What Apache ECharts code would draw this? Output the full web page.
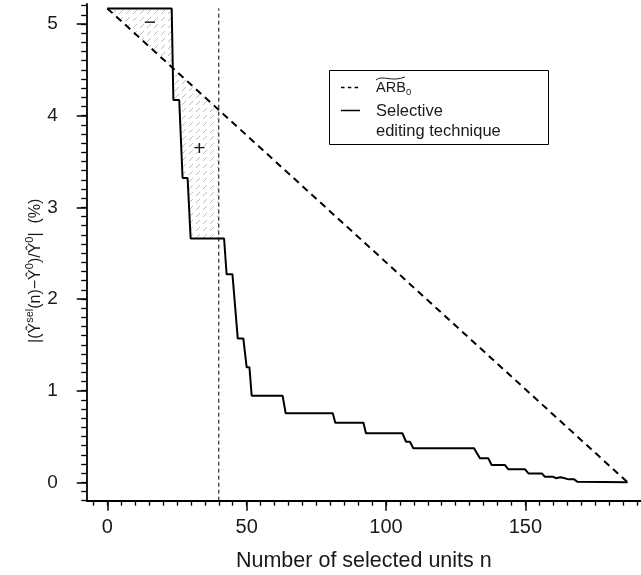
<!DOCTYPE html>
<html>
<head>
<meta charset="utf-8">
<script src="https://cdn.jsdelivr.net/npm/echarts@6/dist/echarts.min.js"></script>
<style>
html, body { margin: 0; padding: 0; background: #fff; }
#chart { width: 641px; height: 575px; }
</style>
</head>
<body>
<div id="chart"></div>
<script>
// selective editing technique: corners of the step curve (n, relative bias %)
const curveN = [0, 23.1, 23.7, 25.8, 27.0, 28.8, 29.9, 41.9, 42.8, 44.9, 46.8, 48.8, 50.0, 51.0, 51.8,
  62.9, 64.0, 80.9, 81.8, 91.9, 92.8, 105.9, 107.2, 108.6, 109.8, 131.6, 133.7, 136.7, 137.9,
  142.7, 143.9, 149.9, 151.1, 155.9, 157.0, 160.0, 161.0, 162.5, 163.5, 165.5, 167.5, 168.6, 186.7]
const curveV = [5.17, 5.17, 4.17, 4.17, 3.32, 3.32, 2.66, 2.66, 2.27, 2.27, 1.57, 1.57, 1.255, 1.255, 0.945,
  0.945, 0.753, 0.753, 0.65, 0.65, 0.535, 0.535, 0.443, 0.443, 0.371, 0.371, 0.262, 0.262, 0.189,
  0.189, 0.142, 0.142, 0.098, 0.098, 0.061, 0.061, 0.045, 0.055, 0.05, 0.033, 0.033, 0.008, 0]

// ARB_0 straight line
const arbN = [0, 186.7]
const arbV = [5.17, 0]

// chosen cut-off n
const cutN = 40
const cutV = [-0.2, 5.17]

// hatched areas between the two curves
const minusArea = [[0, 5.17], [23.1, 5.17], [23.48, 4.52]]
const plusArea = [[23.48, 4.52], [40, 4.06], [40, 2.66], [29.9, 2.66], [28.8, 3.32], [27, 3.32], [25.8, 4.17], [23.7, 4.17]]
const areaSigns = ['\u2212', '+']
const signPos = [[15.3, 5.01], [33, 3.63]]

// ticks
const xMajor = [0, 50, 100, 150]
const yMajor = [0, 1, 2, 3, 4, 5]
const xMinor = []
for (let v = -5; v <= 190; v += 5) xMinor.push(v)
const yMinor = []
for (let k = -2; k <= 52; k++) yMinor.push(+(k / 10).toFixed(1))

const FONT = '"Liberation Sans", Arial, Helvetica, sans-serif'
const INK = '#1a1a1a'

// hatch pattern, light grey dashed "/"
const hatch = document.createElement('canvas')
hatch.width = 7
hatch.height = 7
const hc = hatch.getContext('2d')
hc.strokeStyle = '#bdbdbd'
hc.lineWidth = 1
hc.beginPath()
hc.moveTo(0, 7)
hc.lineTo(4, 3)
hc.stroke()

// y axis title built from pieces (main text + superscripts)
const yLabelParts = [['|(', 0], ['\u0176', 0], ['sel', 1], ['(n)\u2212', 0], ['\u0176', 0], ['0', 1],
  [')/', 0], ['\u0176', 0], ['0', 1], ['|  (%)', 0]]

function yLabelChildren() {
  const ctx = document.createElement('canvas').getContext('2d')
  let x = 0
  const kids = []
  yLabelParts.forEach(([txt, sup]) => {
    const size = sup ? 11 : 16
    ctx.font = size + 'px ' + FONT
    kids.push({
      type: 'text', x: x, y: sup ? -6 : 0,
      style: { text: txt, fontSize: size, fontFamily: FONT, fill: INK, align: 'left', verticalAlign: 'middle' }
    })
    x += ctx.measureText(txt).width
  })
  return kids
}

const chart = echarts.init(document.getElementById('chart'))

const option = {
  animation: false,
  grid: { left: 86.7, right: 0, top: 4, bottom: 74.3, containLabel: false, outerBoundsMode: 'none' },
  xAxis: [
    {
      type: 'value', min: -7.4, max: 191.5, position: 'bottom',
      name: 'Number of selected units n', nameLocation: 'middle', nameGap: 49,
      nameTextStyle: { fontSize: 21.5, fontFamily: FONT, color: INK },
      axisLine: { onZero: false, lineStyle: { color: '#000', width: 1.8 } },
      axisTick: { length: 10, customValues: xMajor, lineStyle: { color: '#000', width: 1.5 } },
      axisLabel: { customValues: xMajor, margin: 17, fontSize: 20, fontFamily: FONT, color: INK },
      splitLine: { show: false }
    },
    {
      type: 'value', min: -7.4, max: 191.5, position: 'bottom',
      axisLine: { show: false, onZero: false },
      axisTick: { length: 5, customValues: xMinor, lineStyle: { color: '#000', width: 1.3 } },
      axisLabel: { show: false },
      splitLine: { show: false }
    }
  ],
  yAxis: [
    {
      type: 'value', min: -0.2, max: 5.218, position: 'left',
      axisLine: { show: true, onZero: false, lineStyle: { color: '#000', width: 1.8 } },
      axisTick: { show: true, length: 10, customValues: yMajor, lineStyle: { color: '#000', width: 1.5 } },
      axisLabel: { customValues: yMajor, margin: 29, fontSize: 19, fontFamily: FONT, color: INK },
      splitLine: { show: false }
    },
    {
      type: 'value', min: -0.2, max: 5.218, position: 'left',
      axisLine: { show: false, onZero: false },
      axisTick: { show: true, length: 5.5, customValues: yMinor, lineStyle: { color: '#000', width: 1.3 } },
      axisLabel: { show: false },
      splitLine: { show: false }
    }
  ],
  series: [
    {
      type: 'custom',
      silent: true,
      z: 1,
      data: [[0, 0], [0, 0]],
      renderItem: function (params, api) {
        const poly = [minusArea, plusArea][params.dataIndex]
        const c = api.coord(signPos[params.dataIndex])
        return {
          type: 'group',
          children: [
            {
              type: 'polygon',
              shape: { points: poly.map(p => api.coord(p)) },
              style: { fill: { image: hatch, repeat: 'repeat' }, stroke: null }
            },
            {
              type: 'text', x: c[0], y: c[1],
              style: { text: areaSigns[params.dataIndex], fontSize: 21, fontFamily: FONT, fill: INK, align: 'center', verticalAlign: 'middle' }
            }
          ]
        }
      }
    },
    {
      type: 'line',
      z: 3,
      showSymbol: false,
      data: arbN.map((n, i) => [n, arbV[i]]),
      lineStyle: { color: '#000', width: 2, type: [7, 5] }
    },
    {
      type: 'line',
      z: 2,
      showSymbol: false,
      data: cutV.map(v => [cutN, v]),
      lineStyle: { color: '#000', width: 1, type: [4, 3] }
    },
    {
      type: 'line',
      z: 4,
      showSymbol: false,
      data: curveN.map((n, i) => [n, curveV[i]]),
      lineStyle: { color: '#000', width: 2 }
    }
  ],
  graphic: [
    { type: 'group', x: 36, y: 343, rotation: Math.PI / 2, children: yLabelChildren() },
    {
      type: 'group',
      children: [
        { type: 'rect', shape: { x: 329.5, y: 70.5, width: 219, height: 74 }, style: { fill: '#fff', stroke: '#000', lineWidth: 1 } },
        { type: 'line', shape: { x1: 341, y1: 87.5, x2: 360, y2: 87.5 }, style: { stroke: '#000', lineWidth: 1.5, lineDash: [3.5, 3.3] } },
        { type: 'line', shape: { x1: 341, y1: 110.5, x2: 360, y2: 110.5 }, style: { stroke: '#000', lineWidth: 1.5 } },
        { type: 'text', x: 376, y: 87.5, style: { text: 'ARB', fontSize: 14.5, fontFamily: FONT, fill: INK, verticalAlign: 'middle' } },
        { type: 'text', x: 406, y: 92, style: { text: '0', fontSize: 9.5, fontFamily: FONT, fill: INK, verticalAlign: 'middle' } },
        { type: 'bezierCurve', shape: { x1: 376, y1: 80, cpx1: 382, cpy1: 74.5, cpx2: 392, cpy2: 82.5, x2: 405, y2: 77 }, style: { stroke: INK, lineWidth: 1, fill: null } },
        { type: 'text', x: 376, y: 111, style: { text: 'Selective', fontSize: 16.5, fontFamily: FONT, fill: INK, verticalAlign: 'middle' } },
        { type: 'text', x: 376, y: 131, style: { text: 'editing technique', fontSize: 16.5, fontFamily: FONT, fill: INK, verticalAlign: 'middle' } }
      ]
    }
  ]
}

chart.setOption(option)
</script>
</body>
</html>
